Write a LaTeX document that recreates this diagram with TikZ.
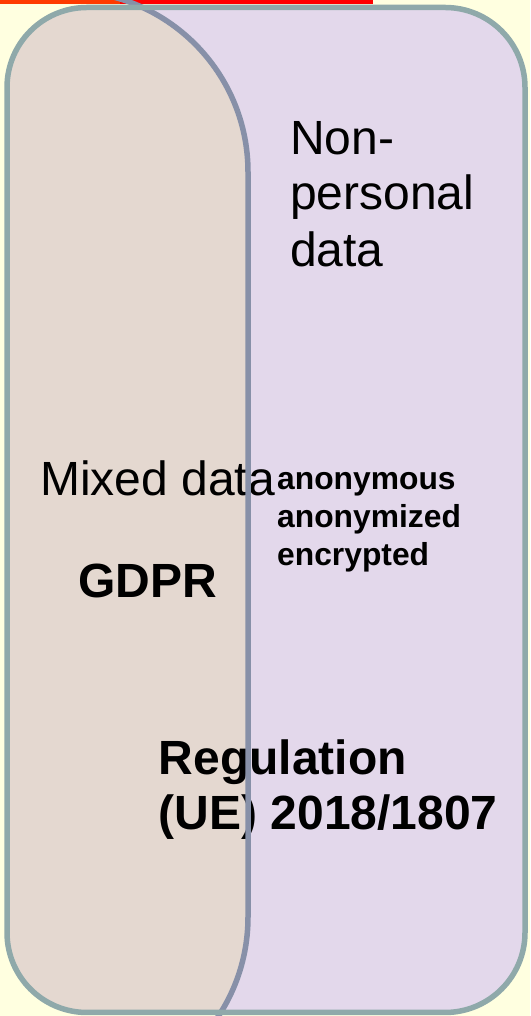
\documentclass[tikz,border=0pt]{standalone}
\usepackage{fontspec}
\setmainfont{Liberation Sans}
\definecolor{paper}{HTML}{FFFFE0}
\definecolor{lilac}{HTML}{E3D8EB}
\definecolor{sand}{HTML}{E4D8D0}
\definecolor{frame}{HTML}{8FA9AA}
\definecolor{edge}{HTML}{8790A8}
\definecolor{rule}{HTML}{FF0000}
\definecolor{ruleleft}{HTML}{FF3A00}
\tikzset{
  big/.style={font=\fontsize{48}{57}\selectfont, inner sep=0pt, anchor=base west},
  bigbold/.style={big, font=\fontsize{48}{57}\selectfont\bfseries},
  small/.style={font=\fontsize{31.8}{38}\selectfont\bfseries, inner sep=0pt, anchor=base west},
}
\begin{document}
\begin{tikzpicture}[x=1pt,y=1pt]
  \useasboundingbox (0,0) rectangle (530,1016);
  \fill[paper] (0,0) rectangle (530,1016);
  % red rule along the top
  \draw[ruleleft, line width=4pt] (0,1013.5) -- (120,1013.5);
  \draw[rule, line width=4pt] (120,1013.5) -- (373,1013.5);
  % outer frame filled
  \def\frameshape{(7,3.5) rectangle (525,1008.5)}
  \fill[lilac, rounded corners=80pt] \frameshape;
  % mixed-data region, clipped to the frame
  \begin{scope}
    \clip[rounded corners=80pt] \frameshape;
    \fill[sand] (67,1025) arc[start angle=90, end angle=0, radius=181]
      -- (248,99) arc[start angle=0, end angle=-90, radius=181]
      -- (-200,-82) -- (-200,1025) -- cycle;
  \end{scope}
  % labels
  \node[big] (non1) at (290,861) {Non-};
  \node[big] (non2) at (290,806) {personal};
  \node[big] (non3) at (290,749.3) {data};
  \node[big] (mixed) at (40,520) {Mixed data};
  \node[bigbold] (gdpr) at (78,418) {GDPR};
  \node[small] (anon1) at (277,526) {anonymous};
  \node[small] (anon2) at (277,488) {anonymized};
  \node[small] (anon3) at (277,450) {encrypted};
  \node[bigbold] (reg1) at (158.5,241) {Regulation};
  \node[bigbold] (reg2) at (158.5,186) {(UE) 2018/1807};
  % boundary of the mixed-data region
  \draw[edge, line width=5.5pt] (67,1025) arc[start angle=90, end angle=0, radius=181]
      -- (248,99) arc[start angle=0, end angle=-90, radius=181];
  % frame outline
  \draw[frame, line width=5.5pt, rounded corners=80pt] \frameshape;
\end{tikzpicture}
\end{document}
